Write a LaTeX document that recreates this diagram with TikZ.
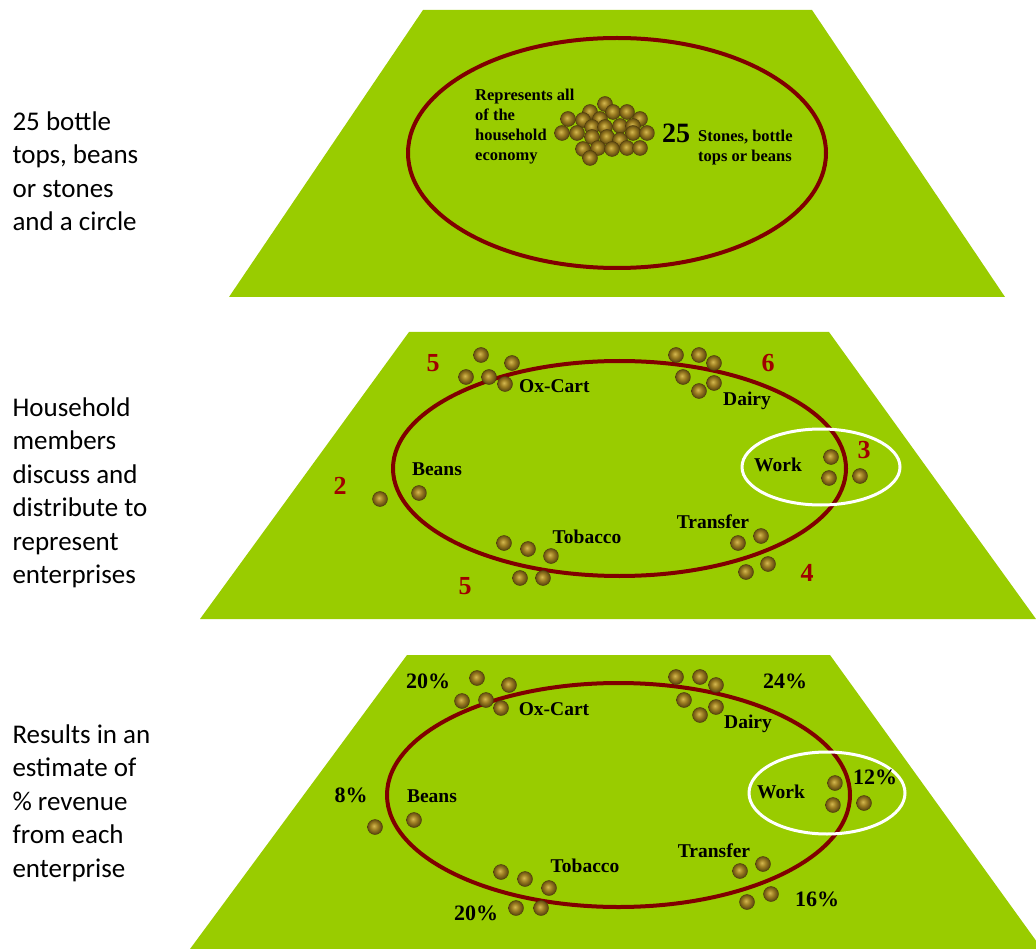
\documentclass[tikz,border=0pt]{standalone}
\usepackage{fontspec}
\setmainfont{Liberation Serif}
\newfontfamily\carl{Carlito}
\definecolor{field}{HTML}{99CC00}
\definecolor{ring}{HTML}{800000}
\definecolor{numred}{HTML}{A00000}
\definecolor{stonein}{HTML}{D4B850}
\definecolor{stonemid}{HTML}{9C7E22}
\definecolor{stoneout}{HTML}{4E3A0C}
\pgfdeclareradialshading{stoneshade}{\pgfpoint{-4bp}{4bp}}{%
  color(0bp)=(stonein); color(12bp)=(stonemid); color(28bp)=(stoneout); color(50bp)=(stoneout)}
\begin{document}
\begin{tikzpicture}[x=1pt,y=-1pt,
  stone/.style={circle,inner sep=0pt,minimum size=15pt,shading=stoneshade,draw=stoneout,line width=0.4pt},
  sidetext/.style={anchor=west,align=left,font=\carl\fontsize{27}{33.5}\selectfont},
  lab/.style={font=\bfseries\fontsize{19.5}{20}\selectfont,inner sep=0pt},
  small/.style={font=\bfseries\fontsize{16.5}{20}\selectfont,inner sep=0pt,align=left},
  num/.style={font=\bfseries\fontsize{26}{26}\selectfont,text=numred,inner sep=0pt},
  pct/.style={font=\bfseries\fontsize{22}{22}\selectfont,inner sep=0pt},
  bigring/.style={draw=ring,line width=4pt},
  whitering/.style={draw=white,line width=3pt}]
\useasboundingbox (0,0) rectangle (1036,949);
\begin{scope}
\clip (0,0) rectangle (1036,949);
% panels
\fill[field] (423,10) -- (812,10) -- (1005,297) -- (229,297) -- cycle;
\fill[field] (409,332) -- (829,332) -- (1036,619) -- (200,619) -- cycle;
\fill[field] (407,655) -- (830,655) -- (1042,949) -- (190,949) -- cycle;
\end{scope}

% ---------- panel 1 ----------
\draw[bigring] (617,153) ellipse [x radius=209, y radius=115];
\node[sidetext] (t1) at (9,171) {25 bottle\\tops, beans\\or stones\\and a circle};
\node[small,anchor=west] (rep) at (475,127) {Represents all\\of the\\household\\economy};
\foreach \p [count=\i] in {(605,104),(590,112),(613,112),(627,112),(568,119),(583,120),(600,119),(640,119),(592,127),(605,127),(620,126),(633,126),(562,133),(577,133),(592,137),(607,137),(633,133),(647,133),(620,140),(583,149),(598,148),(612,149),(627,148),(640,148),(590,158)}
  \node[stone] (a\i) at \p {};
\node[font=\bfseries\fontsize{28}{28}\selectfont,inner sep=0pt] (n25) at (676,133) {25};
\node[small,anchor=west] (sto) at (698,148) {Stones, bottle\\tops or beans};

% ---------- panel 2 ----------
\draw[bigring] (619.5,468.5) ellipse [x radius=226.5, y radius=107.5];
\draw[whitering] (821,467) ellipse [x radius=79, y radius=38];
\node[sidetext] (t2) at (9,493) {Household\\members\\discuss and\\distribute to\\represent\\enterprises};
\foreach \p [count=\i] in {(481,355),(512,363),(466,377),(489,377),(505,384),
  (676,355),(699,355),(714,363),(683,377),(714,383),(699,391),
  (380,499),(419,493),
  (831,457),(829,478),(860,476),
  (738,543),(761,536),(746,572),(768,564),
  (504,543),(528,549),(551,556),(520,578),(543,578)}
  \node[stone] (b\i) at \p {};
\node[num] (m1) at (433,363) {5};
\node[lab,anchor=west] (ox2) at (519,386) {Ox-Cart};
\node[num] (m2) at (768,363) {6};
\node[lab] (da2) at (747,401) {Dairy};
\node[num] (m3) at (340,486) {2};
\node[lab] (be2) at (437,469) {Beans};
\node[lab] (wo2) at (778,465) {Work};
\node[num] (m4) at (864,450) {3};
\node[lab] (tr2) at (713,522) {Transfer};
\node[num] (m5) at (807,573) {4};
\node[lab] (to2) at (587,537) {Tobacco};
\node[num] (m6) at (465,586) {5};

% ---------- panel 3 ----------
\draw[bigring] (618.5,795) ellipse [x radius=231.5, y radius=112];
\draw[whitering] (827,793) ellipse [x radius=78, y radius=41];
\node[sidetext] (t3) at (9,803) {Results in an\\estimate of\\\% revenue\\from each\\enterprise};
\foreach \p [count=\i] in {(477,678),(509,685),(462,701),(486,700),(501,708),
  (676,677),(700,677),(716,685),(684,700),(716,707),(700,715),
  (375,827),(414,820),
  (835,783),(833,805),(864,803),
  (740,871),(763,864),(747,902),(771,894),
  (501,872),(525,879),(549,888),(516,908),(541,908)}
  \node[stone] (c\i) at \p {};
\node[pct] (p1) at (428,681) {20\%};
\node[lab] (ox3) at (554,709) {Ox-Cart};
\node[pct] (p2) at (785,681) {24\%};
\node[lab] (da3) at (748,724) {Dairy};
\node[pct] (p3) at (351,795) {8\%};
\node[lab] (be3) at (432,796) {Beans};
\node[lab] (wo3) at (781,792) {Work};
\node[pct] (p4) at (875,777) {12\%};
\node[lab] (tr3) at (714,851) {Transfer};
\node[pct] (p5) at (817,899) {16\%};
\node[lab] (to3) at (585,866) {Tobacco};
\node[pct] (p6) at (476,913) {20\%};
\end{tikzpicture}
\end{document}
